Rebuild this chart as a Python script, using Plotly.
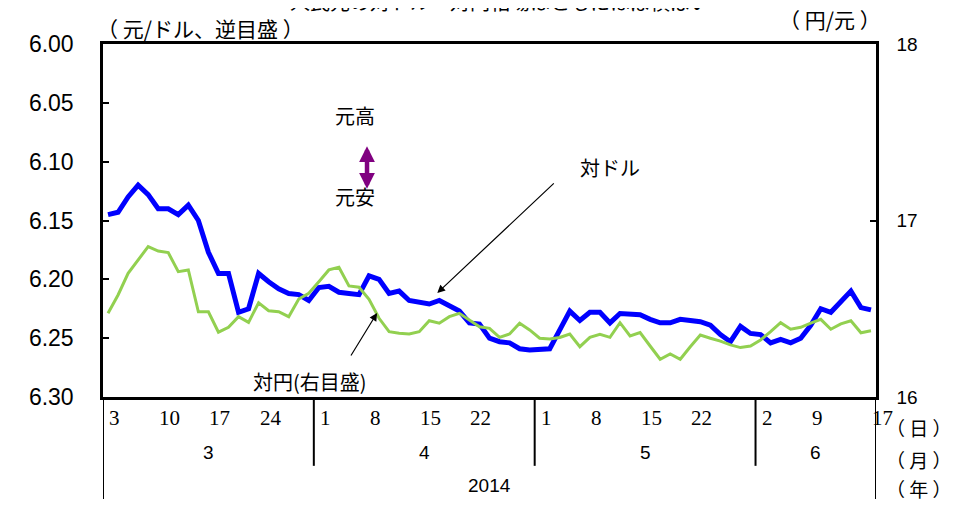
import pandas as pd
import plotly.graph_objects as go

# ---- data ----
dates = pd.bdate_range("2014-03-03", "2014-06-17")
usd_cny = [6.145, 6.143, 6.130, 6.120, 6.128, 6.140, 6.140, 6.145, 6.137, 6.150,
           6.177, 6.195, 6.195, 6.228, 6.225, 6.195, 6.202, 6.208, 6.212, 6.213,
           6.218, 6.207, 6.206, 6.211, 6.212, 6.213, 6.197, 6.200, 6.212, 6.210,
           6.218, 6.220, 6.221, 6.218, 6.223, 6.227, 6.237, 6.238, 6.250, 6.253,
           6.254, 6.259, 6.260, 6.260, 6.259, 6.243, 6.227, 6.235, 6.228, 6.228,
           6.237, 6.229, 6.229, 6.230, 6.234, 6.237, 6.237, 6.234, 6.235, 6.236,
           6.239, 6.247, 6.253, 6.240, 6.246, 6.247, 6.254, 6.251, 6.254, 6.250,
           6.239, 6.225, 6.228, 6.219, 6.210, 6.224, 6.226]
cny_jpy = [16.474, 16.578, 16.701, 16.776, 16.852, 16.827, 16.818, 16.710, 16.720, 16.483,
           16.483, 16.367, 16.395, 16.455, 16.423, 16.534, 16.489, 16.483, 16.455, 16.555,
           16.588, 16.653, 16.720, 16.735, 16.629, 16.622, 16.553, 16.446, 16.370, 16.361,
           16.357, 16.370, 16.432, 16.418, 16.455, 16.474, 16.436, 16.398, 16.389, 16.338,
           16.357, 16.418, 16.380, 16.333, 16.329, 16.337, 16.357, 16.285, 16.338, 16.355,
           16.338, 16.421, 16.346, 16.365, 16.289, 16.214, 16.244, 16.214, 16.285, 16.351,
           16.333, 16.317, 16.295, 16.280, 16.289, 16.323, 16.370, 16.421, 16.384, 16.395,
           16.418, 16.440, 16.384, 16.414, 16.432, 16.364, 16.375]
tick_dates = ["2014-03-03", "2014-03-10", "2014-03-17", "2014-03-24",
              "2014-04-01", "2014-04-08", "2014-04-15", "2014-04-22",
              "2014-05-01", "2014-05-08", "2014-05-15", "2014-05-22",
              "2014-06-02", "2014-06-09", "2014-06-17"]
day_labels = ["3", "10", "17", "24", "1", "8", "15", "22", "1", "8", "15", "22", "2", "9", "17"]
month_labels = ["3", "4", "5", "6"]
year_label = "2014"

x = list(range(len(dates)))
date_strs = [d.strftime("%Y-%m-%d") for d in dates]

JP = "Noto Sans CJK JP"
SANS = "Liberation Sans"
SERIF = "Liberation Serif"

fig = go.Figure()
fig.add_trace(go.Scatter(x=x, y=cny_jpy, yaxis="y2", mode="lines",
                         line=dict(color="#92D050", width=3), name="対円"))
fig.add_trace(go.Scatter(x=x, y=usd_cny, mode="lines",
                         line=dict(color="#0000FF", width=5), name="対ドル"))

n = len(x)
fig.update_layout(
    width=950, height=491,
    margin=dict(l=95, r=82, t=36, b=102, autoexpand=False),
    paper_bgcolor="white", plot_bgcolor="white",
    showlegend=False,
    xaxis=dict(range=[-0.5, n - 0.5], showgrid=False, zeroline=False,
               showticklabels=False, ticks="", showline=True, linecolor="black",
               linewidth=2.5, mirror=True),
    yaxis=dict(range=[6.30, 6.00], dtick=0.05, tickformat=".2f", showgrid=False,
               zeroline=False, ticks="inside", ticklen=6, tickwidth=1.5, tickcolor="black",
               showline=True, linecolor="black", linewidth=2.5, mirror=True,
               ticklabelstandoff=22,
               tickfont=dict(family=SANS, size=23, color="black")),
    yaxis2=dict(range=[16, 18], dtick=1, overlaying="y", side="right", showgrid=False,
                zeroline=False, ticks="inside", ticklen=6, tickwidth=1.5, tickcolor="black",
                showline=True, linecolor="black", linewidth=2.5,
                ticklabelstandoff=14,
                tickfont=dict(family=SANS, size=19, color="black")),
)

shapes = []
month_starts = [i for i in range(n) if i == 0 or dates[i].month != dates[i - 1].month]
for i in month_starts[1:]:
    shapes.append(dict(type="line", xref="x", yref="paper", x0=i - 0.5, x1=i - 0.5,
                       y0=0, y1=-0.195, line=dict(color="black", width=2)))
for xe in (-0.5, n - 0.5):
    shapes.append(dict(type="line", xref="x", yref="paper", x0=xe, x1=xe,
                       y0=0, y1=-0.29, line=dict(color="black", width=2)))
fig.update_layout(shapes=shapes)


def label(xv, yv, text, font, xref="paper", yref="paper", xanchor="center",
          yanchor="middle"):
    return dict(x=xv, y=yv, xref=xref, yref=yref, text=text, showarrow=False,
                xanchor=xanchor, yanchor=yanchor, font=font)


ann = []
for d, lab in zip(tick_dates, day_labels):
    i = date_strs.index(d)
    ann.append(label(i - 0.1, -0.06, lab, dict(family=SERIF, size=21, color="black"),
                     xref="x", xanchor="left"))
bounds = month_starts + [n]
for k, lab in enumerate(month_labels):
    ann.append(label((bounds[k] + bounds[k + 1] - 1) / 2, -0.157, lab,
                     dict(family=SANS, size=19, color="black"), xref="x"))
ann.append(label((n - 1) / 2, -0.252, year_label, dict(family=SANS, size=19, color="black"),
                 xref="x"))
for yy, t in [(-0.085, "（ 日 ）"), (-0.176, "（ 月 ）"), (-0.258, "（ 年 ）")]:
    ann.append(label(1.055, yy, t, dict(family=JP, size=19, color="black")))

# axis titles and chart title
ann.append(label(0.126, 1.044, "（ 元/ドル、逆目盛 ）", dict(family=JP, size=21, color="black")))
ann.append(label(0.94, 1.072, "（ 円/元 ）", dict(family=JP, size=21, color="black")))
ann.append(label(0.514, 1.073, "人民元の対ドル・対円相場はともにほぼ横ばい",
                 dict(family=JP, size=20, color="black"), yanchor="bottom"))

# in-chart labels
ann.append(label(24.6, 6.061, "元高", dict(family=JP, size=20, color="black"),
                 xref="x", yref="y"))
ann.append(label(24.6, 6.130, "元安", dict(family=JP, size=20, color="black"),
                 xref="x", yref="y"))
ann.append(dict(x=25.8, y=6.123, xref="x", yref="y", ax=0, ay=-44, text="",
                showarrow=True, arrowside="end+start", arrowhead=2, arrowsize=0.7,
                arrowwidth=4.5, arrowcolor="#800080"))
ann.append(label(50.0, 6.105, "対ドル", dict(family=JP, size=20, color="black"),
                 xref="x", yref="y"))
ann.append(dict(x=32.8, y=6.2116, xref="x", yref="y", ax=118, ay=-111, text="",
                showarrow=True, arrowhead=2, arrowsize=1.3, arrowwidth=1.2, arrowcolor="black"))
ann.append(label(20.1, 6.287, "対円(右目盛)", dict(family=JP, size=20, color="black"),
                 xref="x", yref="y"))
ann.append(dict(x=26.8, y=6.2286, xref="x", yref="y", ax=-27, ay=44, text="",
                showarrow=True, arrowhead=2, arrowsize=1.3, arrowwidth=1.2, arrowcolor="black"))
fig.update_layout(annotations=ann)

fig.write_html("out.html")
